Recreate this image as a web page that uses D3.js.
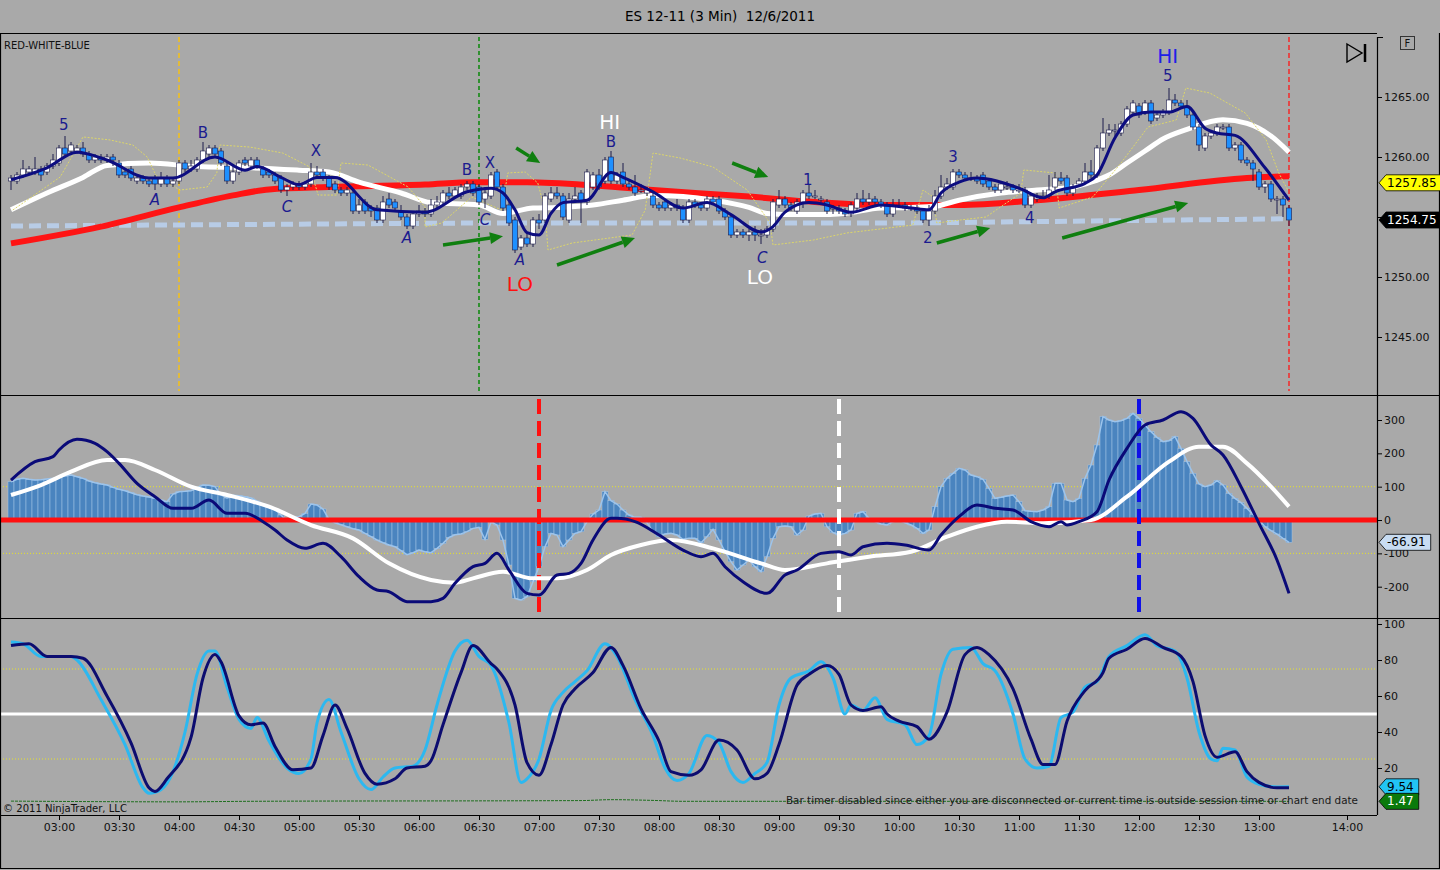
<!DOCTYPE html>
<html>
<head>
<meta charset="utf-8">
<title>ES 12-11 (3 Min) 12/6/2011</title>
<script src="https://cdn.jsdelivr.net/npm/d3@7"></script>
<style>
  html, body { margin: 0; padding: 0; background: #a9a9a9; }
  svg { display: block; font-family: "DejaVu Sans", sans-serif; }
</style>
</head>
<body>
<svg id="chart" width="1440" height="870"></svg>
<script>
(function () {
  "use strict";

  // ---------- data ----------
  const firstBar = "02:36";
  const barMinutes = 3;

  const opens = [
    1258.0, 1258.0, 1258.5, 1258.75, 1258.75, 1259.0, 1258.75, 1259.25, 1259.5, 1260.75,
    1260.5, 1260.5, 1260.75, 1260.25, 1259.75, 1260.0, 1259.75, 1260.0, 1259.5, 1258.75,
    1259.0, 1258.0, 1258.25, 1258.0, 1258.25, 1257.75, 1258.25, 1257.75, 1258.0, 1259.5,
    1259.0, 1259.0, 1259.75, 1260.25, 1260.75, 1260.5, 1259.25, 1258.0, 1258.75, 1259.75,
    1259.25, 1259.75, 1259.0, 1258.75, 1258.5, 1258.25, 1257.25, 1257.5, 1257.75, 1257.5,
    1257.75, 1258.75, 1258.75, 1258.25, 1257.75, 1257.25, 1257.0, 1257.0, 1255.5, 1256.25,
    1255.75, 1255.75, 1254.75, 1256.5, 1256.25, 1255.5, 1255.0, 1254.25, 1255.25, 1255.5,
    1255.25, 1256.0, 1256.25, 1257.0, 1256.75, 1256.75, 1257.5, 1257.75, 1257.5, 1256.5,
    1256.75, 1258.75, 1257.5, 1256.0, 1254.75, 1252.5, 1253.25, 1252.75, 1254.75, 1254.75,
    1256.5, 1257.0, 1256.75, 1254.75, 1256.5, 1257.0, 1256.25, 1257.5, 1258.5, 1258.0,
    1260.0, 1258.0, 1258.75, 1257.75, 1257.5, 1257.25, 1257.0, 1256.75, 1256.0, 1256.25,
    1255.75, 1256.0, 1255.75, 1254.75, 1256.25, 1256.0, 1255.75, 1256.5, 1256.5, 1255.5,
    1255.0, 1253.5, 1253.75, 1253.5, 1253.75, 1253.5, 1253.5, 1254.0, 1256.0, 1256.5,
    1256.0, 1255.5, 1256.25, 1257.0, 1256.75, 1256.5, 1256.25, 1255.75, 1255.75, 1255.5,
    1255.25, 1255.75, 1256.5, 1256.25, 1256.5, 1256.25, 1256.0, 1255.25, 1256.0, 1256.0,
    1255.75, 1255.75, 1255.5, 1254.75, 1255.5, 1256.75, 1257.5, 1257.5, 1258.75, 1258.5,
    1258.25, 1258.25, 1258.5, 1258.0, 1257.5, 1257.25, 1257.5, 1257.5, 1257.25, 1257.25,
    1256.0, 1256.5, 1256.75, 1256.75, 1257.5, 1258.25, 1258.25, 1257.0, 1257.75, 1258.0,
    1258.75, 1258.5, 1260.75, 1262.0, 1262.25, 1262.0, 1262.75, 1263.75, 1264.25, 1263.75,
    1264.5, 1263.25, 1263.5, 1263.75, 1264.75, 1264.5, 1264.25, 1263.5, 1262.5, 1260.75,
    1261.75, 1262.0, 1262.5, 1262.5, 1260.75, 1261.0, 1259.75, 1259.5, 1258.75, 1257.5,
    1257.75, 1256.5, 1256.5, 1255.75
  ];
  const highs = [
    1258.5, 1258.75, 1259.75, 1259.25, 1260.0, 1259.25, 1259.5, 1260.25, 1261.0, 1261.75,
    1261.25, 1261.0, 1261.25, 1260.5, 1260.25, 1260.25, 1260.25, 1260.25, 1259.75, 1259.0,
    1259.25, 1258.5, 1258.5, 1258.25, 1258.5, 1258.75, 1258.5, 1258.25, 1259.75, 1259.75,
    1259.75, 1260.0, 1261.25, 1261.0, 1261.0, 1260.75, 1259.5, 1259.25, 1259.75, 1260.0,
    1260.0, 1260.0, 1259.25, 1259.0, 1258.75, 1258.5, 1257.75, 1258.0, 1258.0, 1258.0,
    1259.5, 1259.25, 1259.0, 1258.5, 1258.0, 1257.5, 1257.5, 1257.25, 1256.5, 1256.5,
    1256.0, 1256.0, 1256.75, 1257.0, 1256.5, 1256.0, 1255.25, 1255.5, 1256.0, 1255.75,
    1256.5, 1256.75, 1257.25, 1257.5, 1257.5, 1257.75, 1258.0, 1258.0, 1257.75, 1257.5,
    1258.75, 1259.0, 1257.75, 1256.25, 1255.0, 1253.5, 1253.75, 1255.0, 1255.25, 1257.0,
    1257.5, 1257.5, 1257.0, 1257.0, 1257.5, 1257.25, 1259.0, 1258.75, 1259.0, 1260.0,
    1260.5, 1258.75, 1259.5, 1258.0, 1258.5, 1257.75, 1257.5, 1257.0, 1256.25, 1256.5,
    1256.25, 1256.5, 1256.0, 1256.5, 1256.5, 1256.25, 1256.75, 1256.75, 1256.75, 1255.75,
    1255.25, 1254.0, 1254.0, 1254.0, 1254.25, 1254.0, 1254.25, 1256.5, 1257.25, 1256.75,
    1256.25, 1256.5, 1257.25, 1257.75, 1257.25, 1256.75, 1256.5, 1256.0, 1256.0, 1255.75,
    1256.25, 1257.0, 1257.25, 1257.0, 1256.75, 1256.5, 1256.25, 1256.5, 1256.5, 1256.25,
    1256.0, 1256.0, 1255.75, 1256.0, 1257.25, 1258.5, 1258.25, 1259.0, 1259.0, 1258.75,
    1258.75, 1258.5, 1258.75, 1258.25, 1257.75, 1258.0, 1258.0, 1257.75, 1257.75, 1257.5,
    1257.0, 1257.0, 1257.25, 1258.5, 1258.75, 1258.75, 1258.5, 1257.75, 1258.25, 1259.5,
    1259.75, 1261.0, 1263.25, 1262.75, 1262.75, 1263.0, 1264.25, 1264.75, 1264.5, 1264.75,
    1264.75, 1263.75, 1264.0, 1265.75, 1265.25, 1264.75, 1264.75, 1263.75, 1262.75, 1262.0,
    1262.25, 1262.75, 1262.75, 1262.75, 1261.25, 1261.25, 1260.0, 1259.75, 1259.0, 1258.0,
    1258.0, 1256.75, 1256.75, 1256.0
  ];
  const lows = [
    1257.25, 1257.75, 1258.25, 1258.5, 1258.5, 1258.0, 1258.5, 1259.0, 1259.25, 1260.0,
    1260.25, 1260.25, 1260.0, 1259.5, 1259.5, 1259.5, 1259.5, 1259.25, 1258.25, 1258.25,
    1258.0, 1257.75, 1257.75, 1257.5, 1257.25, 1257.5, 1257.5, 1257.5, 1257.75, 1258.75,
    1258.75, 1258.75, 1259.5, 1260.0, 1260.0, 1259.25, 1257.75, 1257.75, 1258.5, 1259.25,
    1259.0, 1259.0, 1258.25, 1258.25, 1257.75, 1257.0, 1256.75, 1257.25, 1257.25, 1257.25,
    1257.5, 1258.25, 1258.0, 1257.25, 1257.0, 1256.75, 1256.75, 1255.25, 1255.25, 1255.25,
    1255.0, 1254.5, 1254.5, 1255.75, 1255.5, 1254.75, 1254.0, 1254.0, 1255.0, 1255.0,
    1255.0, 1255.75, 1256.0, 1256.5, 1256.5, 1256.5, 1257.25, 1256.75, 1256.0, 1255.75,
    1256.5, 1257.25, 1255.5, 1254.25, 1252.0, 1252.25, 1252.5, 1252.5, 1254.0, 1254.5,
    1256.25, 1256.5, 1254.75, 1254.5, 1256.25, 1254.5, 1256.0, 1257.25, 1257.25, 1257.75,
    1257.75, 1257.75, 1257.5, 1257.25, 1256.75, 1257.0, 1256.75, 1255.75, 1255.5, 1255.5,
    1255.5, 1255.5, 1254.5, 1254.5, 1255.75, 1255.5, 1255.5, 1256.0, 1255.25, 1254.75,
    1253.25, 1253.25, 1253.25, 1253.0, 1253.0, 1252.75, 1253.25, 1253.75, 1255.75, 1255.75,
    1255.5, 1255.25, 1255.75, 1256.5, 1256.5, 1256.25, 1255.25, 1255.25, 1255.25, 1255.0,
    1255.0, 1255.5, 1256.0, 1256.0, 1256.0, 1255.75, 1255.0, 1255.0, 1255.75, 1255.5,
    1255.5, 1255.25, 1254.5, 1254.25, 1255.25, 1256.5, 1257.25, 1257.25, 1258.25, 1258.0,
    1258.0, 1257.75, 1257.5, 1257.25, 1257.0, 1257.0, 1257.25, 1257.0, 1257.0, 1255.75,
    1255.75, 1256.25, 1256.5, 1256.5, 1257.25, 1257.75, 1256.75, 1256.75, 1257.5, 1257.75,
    1258.25, 1258.25, 1260.5, 1261.75, 1261.75, 1261.75, 1262.5, 1263.5, 1263.25, 1263.5,
    1262.75, 1263.0, 1263.25, 1263.5, 1264.25, 1264.0, 1263.25, 1262.25, 1260.5, 1260.5,
    1261.5, 1261.75, 1262.25, 1260.5, 1260.5, 1259.5, 1259.25, 1258.0, 1257.25, 1257.0,
    1256.25, 1255.25, 1255.0, 1254.25
  ];
  const closes = [
    1258.25, 1258.5, 1259.0, 1259.0, 1259.0, 1258.5, 1259.25, 1259.75, 1260.75, 1260.25,
    1261.0, 1260.75, 1260.25, 1259.75, 1260.0, 1259.75, 1260.0, 1259.75, 1258.5, 1258.5,
    1258.25, 1258.25, 1258.0, 1257.75, 1257.75, 1258.25, 1257.75, 1258.0, 1259.5, 1259.0,
    1259.25, 1259.75, 1260.5, 1260.75, 1260.25, 1259.5, 1258.0, 1258.75, 1259.5, 1259.5,
    1259.75, 1259.25, 1258.5, 1258.5, 1258.0, 1257.25, 1257.5, 1257.75, 1257.5, 1257.75,
    1258.75, 1258.5, 1258.25, 1257.5, 1257.25, 1257.0, 1257.25, 1255.5, 1256.0, 1255.5,
    1255.5, 1254.75, 1256.25, 1256.0, 1255.75, 1255.0, 1254.25, 1255.25, 1255.5, 1255.25,
    1256.0, 1256.25, 1257.0, 1256.75, 1257.25, 1257.5, 1257.75, 1257.0, 1256.25, 1257.0,
    1258.5, 1257.5, 1255.75, 1254.5, 1252.25, 1253.25, 1252.75, 1254.75, 1254.5, 1256.75,
    1257.0, 1256.75, 1255.0, 1256.5, 1256.75, 1256.25, 1258.75, 1258.5, 1257.5, 1259.75,
    1258.0, 1258.5, 1257.75, 1257.5, 1257.0, 1257.25, 1257.25, 1256.0, 1255.75, 1255.75,
    1256.0, 1255.75, 1254.75, 1256.25, 1256.0, 1255.75, 1256.5, 1256.25, 1255.5, 1255.0,
    1253.5, 1253.75, 1253.5, 1253.75, 1253.5, 1253.5, 1254.0, 1256.25, 1256.5, 1256.0,
    1255.75, 1256.25, 1257.0, 1256.75, 1256.75, 1256.5, 1255.5, 1255.75, 1255.5, 1255.25,
    1256.0, 1256.5, 1256.25, 1256.5, 1256.25, 1256.0, 1255.25, 1256.0, 1256.0, 1255.75,
    1255.75, 1255.5, 1254.75, 1255.5, 1256.75, 1257.5, 1257.75, 1258.75, 1258.5, 1258.25,
    1258.25, 1258.0, 1257.75, 1257.5, 1257.25, 1257.75, 1257.5, 1257.25, 1257.25, 1256.0,
    1256.75, 1256.75, 1256.75, 1257.25, 1258.25, 1258.0, 1257.0, 1257.5, 1258.0, 1258.75,
    1258.5, 1260.75, 1262.0, 1262.25, 1262.25, 1262.75, 1264.0, 1264.5, 1263.5, 1264.5,
    1263.0, 1263.5, 1263.75, 1264.75, 1264.5, 1264.25, 1263.5, 1262.5, 1261.0, 1261.75,
    1262.0, 1262.5, 1262.5, 1260.75, 1261.0, 1259.75, 1259.5, 1259.0, 1257.5, 1257.75,
    1256.5, 1256.5, 1256.0, 1254.75
  ];

  // price-panel lines: [bar index, price]
  const fastMA = [
    [0, 1258.1], [6, 1259.1], [11, 1260.4], [16, 1259.75], [23, 1258.25], [27, 1258.25],
    [34, 1260.0], [39, 1258.9], [41, 1259.2], [45, 1258.3], [48, 1257.7], [51, 1258.3],
    [54, 1258.3], [61, 1255.6], [69, 1255.4], [76, 1257.1], [80, 1257.4], [82, 1257.0],
    [84, 1255.6], [86, 1253.7], [88, 1253.5], [90, 1255.3], [92, 1256.2], [96, 1256.4],
    [100, 1258.7], [102, 1258.3], [107, 1257.1], [112, 1255.75], [116, 1256.2], [120, 1255.2],
    [125, 1253.75], [127, 1254.2], [129, 1255.4], [133, 1256.2], [136, 1256.0], [140, 1255.4],
    [145, 1256.0], [150, 1255.75], [153, 1255.6], [155, 1257.0], [158, 1257.9], [161, 1258.25],
    [168, 1257.4], [172, 1256.6], [174, 1257.1], [179, 1257.8], [181, 1258.5], [184, 1261.6],
    [187, 1263.5], [190, 1263.75], [193, 1263.75], [196, 1264.2], [199, 1262.4], [201, 1262.0],
    [204, 1261.8], [209, 1259.1], [213, 1256.4]
  ];
  const whiteMA = [
    [0, 1255.6], [6, 1257.0], [12, 1258.3], [16, 1259.3], [23, 1259.5], [31, 1259.2],
    [40, 1259.1], [48, 1258.9], [53, 1258.75], [58, 1257.9], [65, 1257.0], [70, 1256.2],
    [78, 1256.0], [82, 1255.3], [87, 1255.75], [91, 1255.8], [97, 1256.0], [102, 1256.4],
    [107, 1256.8], [112, 1256.7], [117, 1256.4], [123, 1255.8], [126, 1255.3], [131, 1255.2],
    [136, 1255.2], [139, 1255.3], [145, 1255.75], [150, 1255.8], [154, 1255.9], [158, 1256.4],
    [165, 1257.0], [171, 1257.25], [177, 1257.5], [180, 1257.9], [183, 1258.5], [186, 1259.5],
    [189, 1260.5], [192, 1261.5], [196, 1262.3], [202, 1263.1], [206, 1262.8], [210, 1261.75],
    [213, 1260.4]
  ];
  const redMA = [
    [0, 1252.8], [15, 1254.2], [28, 1255.8], [37, 1256.8], [43, 1257.3], [53, 1257.5],
    [69, 1257.7], [77, 1257.9], [86, 1257.9], [98, 1257.6], [107, 1257.25], [123, 1256.7],
    [134, 1256.25], [145, 1256.0], [158, 1256.0], [171, 1256.4], [188, 1257.25], [206, 1258.25],
    [213, 1258.4]
  ];
  const baseLine = [[0, 1254.25], [78, 1254.5], [150, 1254.5], [213, 1254.85]];
  const envelope = [
    [0.3, 1255.58], [8.2, 1258.33], [12, 1261.67], [16.5, 1261.42], [20.3, 1261.0], [22.7, 1260.0],
    [24.3, 1258.33], [28.2, 1257.25], [32.7, 1257.5], [34.3, 1258.67], [34.8, 1261.0], [39.8, 1260.83],
    [45.3, 1260.33], [49.8, 1259.17], [51.2, 1256.83], [54.3, 1256.83], [55, 1259.5], [59.5, 1259.33],
    [66.2, 1257.5], [69, 1255.83], [69, 1254.17], [71.8, 1254.5], [76.8, 1256.67], [79.8, 1256.0],
    [81.8, 1255.58], [82.8, 1258.67], [85.7, 1258.75], [87.8, 1257.83], [89, 1255.58], [89.5, 1252.25],
    [93.5, 1252.83], [103.5, 1253.5], [105.7, 1255.58], [107, 1260.33], [111.5, 1259.92], [117, 1259.17],
    [122.7, 1257.25], [126.5, 1254.5], [127, 1252.67], [133.7, 1253.08], [139.3, 1253.67], [150.3, 1254.33],
    [152, 1257.25], [153.7, 1256.67], [154.3, 1254.5], [158.2, 1254.75], [162.5, 1255.0], [168.3, 1257.0],
    [168.8, 1258.92], [174, 1258.67], [174.7, 1255.75], [180.3, 1256.67], [185, 1259.5], [189.5, 1262.5],
    [194.2, 1263.08], [195.8, 1265.75], [199.8, 1265.33], [205.7, 1263.67], [209.2, 1261.42],
    [211.3, 1258.67], [212.8, 1257.25]
  ];

  // oscillator histogram, one value per bar
  const macdHist = [
    115, 122, 125, 122, 120, 121, 123, 125, 128, 132,
    135, 130, 125, 117, 112, 108, 105, 98, 92, 88,
    82, 76, 72, 69, 65, 60, 55, 78, 85, 86,
    88, 97, 105, 104, 100, 75, 66, 74, 73, 70,
    66, 57, 48, 40, 32, 15, -5, 4, 10, 20,
    48, 45, 33, 2, -8, -14, -20, -26, -30, -40,
    -50, -60, -68, -75, -80, -92, -104, -98, -90, -95,
    -98, -85, -70, -52, -44, -42, -35, -25, -22, -58,
    -6, -15, -60, -135, -235, -240, -230, -185, -140, -80,
    -40, -45, -80, -60, -40, -35, -5, 18, 30, 85,
    58, 48, 30, 15, 8, 8, -8, -35, -50, -42,
    -40, -45, -58, -55, -55, -68, -50, -28, -60, -95,
    -125, -150, -135, -120, -140, -155, -110, -55, -20, -18,
    -20, -45, -30, 12, 18, 20, -20, -38, -45, -40,
    -30, 20, 25, 5, -5, -12, -15, -5, 0, -8,
    -15, -25, -40, -30, 40, 100, 125, 140, 155, 150,
    135, 130, 122, 95, 65, 68, 72, 75, 55, 28,
    26, 25, 30, 40, 110, 110, 60, 55, 65, 125,
    165, 225, 310, 300, 295, 298, 305, 320, 305, 285,
    265, 248, 235, 238, 250, 215, 175, 140, 108, 100,
    105, 118, 105, 80, 65, 52, 35, 17, 0, -20,
    -32, -42, -55, -66.91
  ];
  const macdLine = [
    [0, 120], [4, 175], [7, 190], [8, 210], [11, 242], [14, 230], [16, 205], [18, 170],
    [21, 110], [24, 70], [27, 35], [30, 35], [33, 60], [36, 20], [39, 20], [42, -5],
    [44, -30], [46, -60], [49, -85], [52, -70], [55, -110], [58, -170], [61, -210], [63, -215],
    [66, -245], [70, -245], [72, -235], [74, -190], [77, -140], [79, -130], [81, -100], [83, -150],
    [86, -220], [88, -225], [91, -165], [93, -160], [95, -130], [97, -60], [100, 5], [101, 5],
    [104, -5], [108, -45], [112, -90], [115, -110], [117, -100], [119, -140], [122, -185], [126, -220],
    [129, -165], [131, -150], [135, -100], [138, -95], [140, -105], [142, -80], [146, -70], [149, -75],
    [153, -90], [155, -45], [158, 10], [161, 45], [164, 35], [167, 30], [170, -5], [173, -20],
    [175, -5], [176, -15], [178, -5], [181, 25], [183, 120], [186, 215], [189, 285], [192, 300],
    [195, 325], [197, 305], [200, 225], [202, 195], [205, 100], [208, -10], [211, -120], [213, -220]
  ];
  const macdAvg = [
    [0, 75], [5, 105], [10, 145], [16, 180], [19, 180], [24, 150], [30, 100], [36, 75],
    [43, 40], [50, -15], [57, -55], [63, -130], [70, -180], [74, -188], [77, -175], [82, -155],
    [87, -175], [91, -175], [96, -150], [100, -105], [105, -75], [110, -60], [117, -85], [125, -130],
    [129, -150], [136, -130], [143, -110], [150, -95], [156, -50], [161, -20], [166, -5], [172, -10],
    [180, 0], [186, 70], [193, 175], [198, 220], [202, 220], [206, 170], [210, 100], [213, 40]
  ];

  // stochastics: fast (light blue) and slow (navy)
  const stochK = [
    [0, 90], [2, 89], [5, 82], [10, 82], [11, 80], [15, 58], [19, 33], [22, 9], [23, 6], [25, 8],
    [27, 18], [29, 40], [31, 72], [33, 85], [34, 85], [36, 65], [38, 47], [40, 42], [41, 48], [43, 35],
    [46, 20], [48, 17], [50, 25], [51, 45], [53, 58], [55, 40], [58, 14], [60, 8], [62, 15], [64, 20],
    [67, 21], [69, 30], [71, 55], [74, 85], [76, 91], [78, 82], [80, 77], [83, 45], [85, 12], [86, 14],
    [88, 25], [90, 52], [92, 62], [94, 68], [96, 74], [99, 89], [101, 82], [104, 58], [107, 38], [109, 20],
    [111, 13], [113, 17], [116, 38], [118, 34], [120, 18], [122, 12], [124, 17], [126, 23], [128, 55],
    [130, 70], [133, 74], [135, 79], [137, 70], [139, 50], [140, 55], [142, 52], [144, 59], [146, 47],
    [149, 44], [151, 33], [153, 38], [155, 72], [157, 86], [160, 87], [162, 78], [164, 74], [167, 50],
    [169, 25], [171, 20], [173, 21], [175, 48], [177, 51], [179, 65], [181, 68], [183, 82], [186, 88],
    [189, 94], [191, 88], [194, 85], [196, 70], [198, 40], [200, 25], [201, 24], [202, 31], [204, 30],
    [206, 15], [208, 11], [211, 9.5], [213, 9.54]
  ];
  const stochD = [
    [0, 88], [3, 89], [6, 82], [10, 82], [12, 81], [16, 60], [20, 34], [23, 9], [24, 7], [26, 14],
    [30, 37], [32, 70], [34, 83], [35, 79], [38, 49], [40, 44], [42, 45], [44, 32], [47, 19], [50, 20],
    [52, 38], [54, 55], [56, 42], [59, 17], [61, 11], [64, 14], [66, 20], [69, 21], [70, 24], [72, 44],
    [75, 73], [77, 88], [80, 78], [81, 75], [84, 55], [86, 23], [88, 16], [90, 33], [92, 55], [94, 64],
    [97, 73], [100, 87], [102, 77], [105, 53], [108, 35], [110, 18], [113, 16], [115, 19], [118, 35.5],
    [121, 30], [124, 14], [126, 17], [128, 33], [131, 66], [133, 72], [136, 77], [138, 72], [140, 55],
    [142, 52], [145, 54], [146, 50], [148, 46], [151, 43], [153, 36], [156, 51], [159, 83], [161, 87],
    [163, 83], [167, 64], [170, 36], [172, 22], [174, 22], [176, 46], [179, 63], [182, 73], [183, 81],
    [186, 86], [189, 92], [192, 87], [195, 82], [197, 68], [199, 38], [201, 26], [204, 29], [206, 18],
    [208, 12], [211, 9], [213, 9]
  ];
  const volLine = [[0, 1.6], [28, 1.2], [40, 1.5], [95, 1.9], [100, 2.4], [107, 2.0], [112, 1.5], [213, 1.47]];

  const timeTicks = ["03:00", "03:30", "04:00", "04:30", "05:00", "05:30", "06:00", "06:30", "07:00",
    "07:30", "08:00", "08:30", "09:00", "09:30", "10:00", "10:30", "11:00", "11:30", "12:00",
    "12:30", "13:00", "14:00"];
  const priceTicks = [1265, 1260, 1255, 1250, 1245];
  const macdTicks = [300, 200, 100, 0, -100, -200];
  const stochTicks = [100, 80, 60, 40, 20];
  const lastSignal = 1257.85;

  const waveLabels = [
    ["5", 8.8, 1262.67], ["A", 24, 1256.42], ["B", 32, 1262.0], ["C", 46, 1255.83], ["X", 50.8, 1260.5],
    ["A", 66, 1253.25], ["B", 76, 1258.92], ["X", 79.8, 1259.5], ["C", 79, 1254.75], ["A", 84.8, 1251.4],
    ["B", 100, 1261.25], ["C", 125.2, 1251.58], ["1", 132.8, 1258.08], ["2", 152.8, 1253.25],
    ["3", 157, 1260.0], ["4", 169.8, 1254.92], ["5", 192.8, 1266.75]
  ];
  const turnLabels = [["HI", 99.8, 1262.92], ["LO", 84.8, 1249.45], ["LO", 124.8, 1250.0], ["HI", 192.8, 1268.42]];
  const turnColors = ["#ffffff", "#ff1010", "#ffffff", "#2020e8"];
  const arrows = [
    [72, 1252.67, 82, 1253.4], [91, 1251.0, 104, 1253.25], [84.2, 1260.75, 88.2, 1259.5],
    [120.2, 1259.5, 126.2, 1258.33], [154.3, 1252.83, 163.2, 1254.08], [175.2, 1253.25, 196.2, 1256.17]
  ];

  // ---------- scales ----------
  const svg = d3.select("#chart");
  const parse = d3.timeParse("%H:%M");
  const t0 = parse(firstBar);
  const x = d3.scaleTime()
    .domain([t0, parse("13:15"), parse("14:00")])
    .range([11, 1289, 1347]);
  const xOf = (i) => x(new Date(+t0 + i * barMinutes * 60000));

  const plotRight = 1377;
  const topPanel = { y0: 33, y1: 395 };
  const midPanel = { y0: 395, y1: 618 };
  const botPanel = { y0: 618, y1: 815 };

  const yPrice = d3.scaleLinear().domain([1265, 1245]).range([97, 337]);
  const yMacd = d3.scaleLinear().domain([300, -200]).range([420, 586.7]);
  const yStoch = d3.scaleLinear().domain([100, 0]).range([624, 804]);

  const lastClose = closes[closes.length - 1];
  const lastHist = macdHist[macdHist.length - 1];
  const lastK = stochK[stochK.length - 1][1];
  const lastVol = volLine[volLine.length - 1][1];

  const defs = svg.append("defs");
  [["clipTop", topPanel], ["clipMid", midPanel], ["clipBot", botPanel]].forEach(([id, p]) => {
    defs.append("clipPath").attr("id", id)
      .append("rect").attr("x", 1).attr("y", p.y0 + 1)
      .attr("width", plotRight - 1).attr("height", p.y1 - p.y0 - 1);
  });

  svg.append("rect").attr("width", 1440).attr("height", 870).attr("fill", "#a9a9a9");

  // title
  svg.append("text").attr("x", 720).attr("y", 21).attr("text-anchor", "middle")
    .attr("font-size", 13.5).attr("fill", "#000").style("white-space", "pre")
    .text("ES 12-11 (3 Min)  12/6/2011");

  function lineOn(yScale, curve) {
    return d3.line().x((d) => xOf(d[0])).y((d) => yScale(d[1])).curve(curve || d3.curveMonotoneX);
  }

  // ---------- price panel ----------
  const top = svg.append("g").attr("clip-path", "url(#clipTop)");

  function vMarker(g, time, panel, color, width, dash) {
    const xx = x(parse(time));
    g.append("line").attr("x1", xx).attr("x2", xx)
      .attr("y1", panel.y0 + 4).attr("y2", panel.y1 - 4)
      .attr("stroke", color).attr("stroke-width", width).attr("stroke-dasharray", dash);
  }
  vMarker(top, "04:00", topPanel, "#f0c020", 1.6, "5,3");
  vMarker(top, "06:30", topPanel, "#138a13", 1.6, "4,3");
  vMarker(top, "13:15", topPanel, "#f03030", 1.6, "5,3");

  top.append("path").datum(baseLine).attr("d", lineOn(yPrice, d3.curveLinear))
    .attr("fill", "none").attr("stroke", "#b8cce6").attr("stroke-width", 5).attr("stroke-dasharray", "12,6");
  top.append("path").datum(redMA).attr("d", lineOn(yPrice))
    .attr("fill", "none").attr("stroke", "#ff1414").attr("stroke-width", 6);
  top.append("path").datum(whiteMA).attr("d", lineOn(yPrice))
    .attr("fill", "none").attr("stroke", "#ffffff").attr("stroke-width", 5);
  top.append("path").datum(envelope).attr("d", lineOn(yPrice, d3.curveLinear))
    .attr("fill", "none").attr("stroke", "#dcd66a").attr("stroke-width", 1).attr("stroke-dasharray", "2,1.5");

  const bars = d3.range(closes.length).map((i) => ({
    i, o: opens[i], h: highs[i], l: lows[i], c: closes[i]
  }));
  const candle = top.append("g").selectAll("g").data(bars).join("g");
  candle.append("line")
    .attr("x1", (d) => xOf(d.i)).attr("x2", (d) => xOf(d.i))
    .attr("y1", (d) => yPrice(d.h)).attr("y2", (d) => yPrice(d.l))
    .attr("stroke", "#1c1c4c").attr("stroke-width", 1);
  candle.append("rect")
    .attr("x", (d) => xOf(d.i) - 2.5).attr("width", 5)
    .attr("y", (d) => yPrice(Math.max(d.o, d.c)))
    .attr("height", (d) => Math.max(1, Math.abs(yPrice(d.o) - yPrice(d.c))))
    .attr("fill", (d) => (d.c >= d.o ? "#ffffff" : "#1e90ff"))
    .attr("stroke", "#1c1c4c").attr("stroke-width", 0.6);

  top.append("path").datum(fastMA).attr("d", lineOn(yPrice))
    .attr("fill", "none").attr("stroke", "#0d0d80").attr("stroke-width", 3);

  // green arrows
  arrows.forEach(([i1, p1, i2, p2]) => {
    const xa = xOf(i1), ya = yPrice(p1), xb = xOf(i2), yb = yPrice(p2);
    const ang = Math.atan2(yb - ya, xb - xa);
    const hl = 13, hw = 6;
    const bx = xb - hl * Math.cos(ang), by = yb - hl * Math.sin(ang);
    top.append("line").attr("x1", xa).attr("y1", ya).attr("x2", bx).attr("y2", by)
      .attr("stroke", "#0f7f0f").attr("stroke-width", 3.5);
    const pts = [
      [xb, yb],
      [bx + hw * Math.sin(ang), by - hw * Math.cos(ang)],
      [bx - hw * Math.sin(ang), by + hw * Math.cos(ang)]
    ];
    top.append("polygon").attr("points", pts.map((p) => p.join(",")).join(" ")).attr("fill", "#0f7f0f");
  });

  top.selectAll("text.wave").data(waveLabels).join("text").attr("class", "wave")
    .attr("x", (d) => xOf(d[1])).attr("y", (d) => yPrice(d[2]))
    .attr("text-anchor", "middle").attr("dominant-baseline", "central")
    .attr("font-size", 15).attr("fill", "#1b1b8f")
    .attr("font-style", (d) => (d[0] === "A" || d[0] === "C" ? "italic" : "normal"))
    .text((d) => d[0]);
  top.selectAll("text.turn").data(turnLabels).join("text").attr("class", "turn")
    .attr("x", (d) => xOf(d[1])).attr("y", (d) => yPrice(d[2]))
    .attr("text-anchor", "middle").attr("dominant-baseline", "central")
    .attr("font-size", 20).attr("fill", (d, k) => turnColors[k])
    .text((d) => d[0]);

  svg.append("text").attr("x", 4).attr("y", 49).attr("font-size", 10).attr("fill", "#111")
    .text("RED-WHITE-BLUE");

  // ---------- oscillator panel ----------
  const mid = svg.append("g").attr("clip-path", "url(#clipMid)");
  [100, -100].forEach((v) => {
    mid.append("line").attr("x1", 0).attr("x2", plotRight).attr("y1", yMacd(v)).attr("y2", yMacd(v))
      .attr("stroke", "#e6e22a").attr("stroke-width", 1).attr("stroke-dasharray", "1,2");
  });
  mid.append("g").selectAll("rect").data(macdHist).join("rect")
    .attr("x", (d, i) => xOf(i) - 3).attr("width", 6)
    .attr("y", (d) => yMacd(Math.max(0, d)))
    .attr("height", (d) => Math.abs(yMacd(d) - yMacd(0)))
    .attr("fill", "#4a84bf").attr("stroke", "#a6c6e6").attr("stroke-width", 0.5);
  mid.append("path").datum(macdHist.map((v, i) => [i, v]))
    .attr("d", lineOn(yMacd, d3.curveLinear))
    .attr("fill", "none").attr("stroke", "#9cc4ec").attr("stroke-width", 1.5);
  mid.append("line").attr("x1", 0).attr("x2", plotRight).attr("y1", yMacd(0)).attr("y2", yMacd(0))
    .attr("stroke", "#ff1010").attr("stroke-width", 5);
  vMarker(mid, "07:00", midPanel, "#ff1010", 4, "15,7");
  vMarker(mid, "09:30", midPanel, "#ffffff", 4, "15,7");
  vMarker(mid, "12:00", midPanel, "#1010e8", 4, "15,7");
  mid.append("path").datum(macdAvg).attr("d", lineOn(yMacd))
    .attr("fill", "none").attr("stroke", "#ffffff").attr("stroke-width", 4);
  mid.append("path").datum(macdLine).attr("d", lineOn(yMacd))
    .attr("fill", "none").attr("stroke", "#0a0a78").attr("stroke-width", 3);

  // ---------- stochastic panel ----------
  const bot = svg.append("g").attr("clip-path", "url(#clipBot)");
  [75, 25].forEach((v) => {
    bot.append("line").attr("x1", 0).attr("x2", plotRight).attr("y1", yStoch(v)).attr("y2", yStoch(v))
      .attr("stroke", "#e6e22a").attr("stroke-width", 1).attr("stroke-dasharray", "1,2");
  });
  bot.append("line").attr("x1", 0).attr("x2", plotRight).attr("y1", yStoch(50)).attr("y2", yStoch(50))
    .attr("stroke", "#ffffff").attr("stroke-width", 3);
  bot.append("path").datum(volLine).attr("d", lineOn(yStoch))
    .attr("fill", "none").attr("stroke", "#1f6f1f").attr("stroke-width", 1).attr("stroke-dasharray", "3,1");
  bot.append("path").datum(stochK).attr("d", lineOn(yStoch))
    .attr("fill", "none").attr("stroke", "#2cb8f0").attr("stroke-width", 3);
  bot.append("path").datum(stochD).attr("d", lineOn(yStoch))
    .attr("fill", "none").attr("stroke", "#0c0c70").attr("stroke-width", 3);

  svg.append("text").attr("x", 3).attr("y", 812).attr("font-size", 10).attr("fill", "#111")
    .attr("textLength", 124).attr("lengthAdjust", "spacingAndGlyphs")
    .text("\u00a9 2011 NinjaTrader, LLC");
  svg.append("text").attr("x", 786).attr("y", 804).attr("font-size", 10.5).attr("fill", "#1a1a1a")
    .attr("textLength", 572).attr("lengthAdjust", "spacingAndGlyphs")
    .text("Bar timer disabled since either you are disconnected or current time is outside session time or chart end date");

  // ---------- frames ----------
  const frame = svg.append("g").attr("stroke", "#000").attr("stroke-width", 1.2).attr("fill", "none");
  frame.append("line").attr("x1", 0).attr("x2", plotRight).attr("y1", 33.5).attr("y2", 33.5);
  frame.append("line").attr("x1", 0).attr("x2", 1440).attr("y1", midPanel.y0 + 0.5).attr("y2", midPanel.y0 + 0.5);
  frame.append("line").attr("x1", 0).attr("x2", 1440).attr("y1", botPanel.y0 + 0.5).attr("y2", botPanel.y0 + 0.5);
  frame.append("line").attr("x1", 0).attr("x2", plotRight).attr("y1", botPanel.y1 + 0.5).attr("y2", botPanel.y1 + 0.5);
  frame.append("line").attr("x1", 0.5).attr("x2", 0.5).attr("y1", 33).attr("y2", 868);
  frame.append("line").attr("x1", 0).attr("x2", 1440).attr("y1", 868.5).attr("y2", 868.5);
  frame.append("line").attr("x1", 1439.5).attr("x2", 1439.5).attr("y1", 33).attr("y2", 868);
  frame.append("path").attr("d", `M${plotRight + 6},37.5 H${plotRight + 0.5} V${botPanel.y1}`);

  // ---------- axes ----------
  function styleAxis(g) {
    g.select(".domain").remove();
    g.selectAll(".tick line").attr("stroke", "#000");
    g.selectAll(".tick text").attr("fill", "#111").attr("font-size", 11)
      .attr("font-family", '"DejaVu Sans", sans-serif');
  }
  // the 1255.00 label sits under the last-price tag, as in the original
  const hiddenPrice = Math.round(lastClose / 5) * 5;
  svg.append("g").attr("transform", `translate(${plotRight},0)`)
    .call(d3.axisRight(yPrice).tickValues(priceTicks).tickSize(5).tickPadding(2)
      .tickFormat((d) => (d === hiddenPrice ? "" : d.toFixed(2))))
    .call(styleAxis);
  svg.append("g").attr("transform", `translate(${plotRight},0)`)
    .call(d3.axisRight(yMacd).tickValues(macdTicks).tickSize(5).tickPadding(2)
      .tickFormat((d) => String(d)))
    .call(styleAxis);
  svg.append("g").attr("transform", `translate(${plotRight},0)`)
    .call(d3.axisRight(yStoch).tickValues(stochTicks).tickSize(5).tickPadding(2)
      .tickFormat((d) => String(d)))
    .call(styleAxis);
  svg.append("g").attr("transform", `translate(0,${botPanel.y1})`)
    .call(d3.axisBottom(x).tickValues(timeTicks.map(parse)).tickSize(5).tickPadding(3)
      .tickFormat(d3.timeFormat("%H:%M")))
    .call(styleAxis);

  // ---------- value tags on the right axis ----------
  function tag(y, text, fill, color) {
    const g = svg.append("g");
    const t = g.append("text").attr("x", plotRight + 10).attr("y", y).attr("dominant-baseline", "central")
      .attr("font-size", 12).attr("fill", color).text(text);
    const w = t.node().getComputedTextLength();
    const x0 = plotRight + 2, x1 = plotRight + 12 + w + 3;
    g.insert("polygon", "text")
      .attr("points", `${x0},${y} ${x0 + 7},${y - 8} ${x1},${y - 8} ${x1},${y + 8} ${x0 + 7},${y + 8}`)
      .attr("fill", fill).attr("stroke", "#000").attr("stroke-width", 0.8);
  }
  tag(yPrice(lastSignal), lastSignal.toFixed(2), "#ffff00", "#000");
  tag(yPrice(lastClose), lastClose.toFixed(2), "#000", "#fff");
  tag(yMacd(lastHist), lastHist.toFixed(2), "#c8dcf2", "#000");
  tag(yStoch(lastK), lastK.toFixed(2), "#22c4f4", "#000");
  tag(yStoch(lastVol), lastVol.toFixed(2), "#0b7a0b", "#fff");

  // chart controls (top right)
  svg.append("path").attr("d", "M1347,44 L1362,53 L1347,62 Z")
    .attr("fill", "none").attr("stroke", "#000").attr("stroke-width", 1.4);
  svg.append("line").attr("x1", 1365).attr("x2", 1365).attr("y1", 44).attr("y2", 62)
    .attr("stroke", "#000").attr("stroke-width", 2.5);
  svg.append("rect").attr("x", 1400.5).attr("y", 36.5).attr("width", 14).attr("height", 13)
    .attr("fill", "none").attr("stroke", "#333");
  svg.append("text").attr("x", 1407.5).attr("y", 47).attr("text-anchor", "middle")
    .attr("font-size", 10).attr("fill", "#111").text("F");
})();
</script>
</body>
</html>
